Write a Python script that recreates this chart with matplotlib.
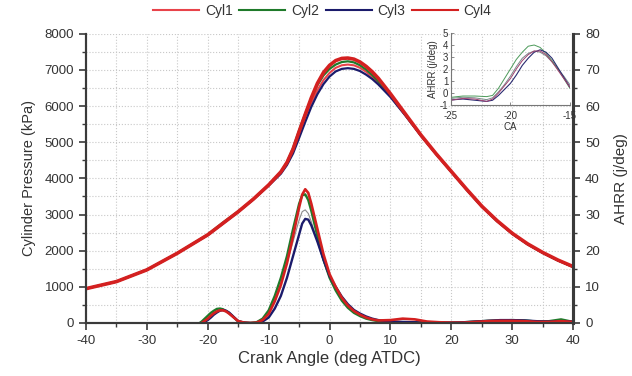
import matplotlib
matplotlib.use("Agg")
import matplotlib.pyplot as plt
from matplotlib.lines import Line2D
from matplotlib.ticker import MultipleLocator

plt.rcParams['font.family'] = ['Liberation Sans', 'DejaVu Sans']
plt.rcParams['axes.unicode_minus'] = False

# crank angle for pressure traces (deg ATDC)
p_ca = [-40, -35, -30, -25, -20, -17.5, -15, -12.5, -10,
        -8, -7, -6, -5, -4, -3, -2, -1, 0, 1, 2, 3, 4, 5, 6, 7, 8,
        10, 12.5, 15, 17.5, 20, 22.5, 25, 27.5, 30, 32.5, 35, 37.5, 40]

# cylinder pressure (kPa)
p_cyl1 = [950, 1145, 1470, 1930, 2440, 2760, 3080, 3430, 3820,
          4160, 4420, 4780, 5250, 5700, 6100, 6440, 6720, 6920, 7060, 7130, 7150, 7130, 7060, 6950, 6810, 6640,
          6270, 5730, 5180, 4670, 4180, 3690, 3220, 2820, 2470, 2180, 1940, 1730, 1550]
p_cyl2 = [950, 1145, 1470, 1930, 2450, 2780, 3090, 3430, 3820,
          4180, 4450, 4840, 5330, 5790, 6220, 6580, 6850, 7030, 7150, 7220, 7240, 7210, 7130, 7010, 6860, 6690,
          6300, 5750, 5190, 4680, 4180, 3690, 3220, 2820, 2470, 2180, 1940, 1730, 1550]
p_cyl3 = [950, 1145, 1470, 1930, 2430, 2750, 3070, 3420, 3800,
          4130, 4370, 4690, 5120, 5560, 5980, 6330, 6610, 6820, 6960, 7030, 7050, 7030, 6970, 6870, 6750, 6600,
          6250, 5730, 5180, 4670, 4180, 3690, 3220, 2820, 2470, 2180, 1940, 1730, 1550]
p_cyl4 = [950, 1145, 1470, 1930, 2440, 2760, 3080, 3430, 3820,
          4180, 4440, 4810, 5300, 5770, 6230, 6630, 6930, 7130, 7260, 7320, 7330, 7300, 7220, 7100, 6950, 6770,
          6340, 5770, 5200, 4680, 4190, 3700, 3230, 2830, 2480, 2190, 1950, 1740, 1560]

# crank angle for heat release traces
h_ca = [-40, -35, -30, -26,
        -25, -24, -23, -22,
        -21.5, -21, -20.5, -20,
        -19.5, -19, -18.5, -18,
        -17.5, -17, -16.5, -16,
        -15.5, -15, -14, -13,
        -12, -11, -10, -9,
        -8, -7, -6, -5,
        -4.5, -4, -3.5, -3,
        -2, -1, 0, 1,
        2, 3, 4, 5,
        6, 7, 8, 10,
        12, 14, 16, 18,
        20, 22, 24, 26,
        28, 30, 32, 34,
        36, 38, 40]

# apparent heat release rate (j/deg)
h_cyl1 = [-0.5, -0.45, -0.5, -0.5,
          -0.45, -0.35, -0.4, -0.55,
          -0.4, 0.1, 0.7, 1.4,
          2.2, 2.9, 3.3, 3.5,
          3.4, 3.1, 2.6, 2.0,
          1.4, 0.7, 0.2, 0.0,
          0.1, 0.9, 2.8, 6.5,
          11.0, 16.5, 22.5, 28.5,
          30.8, 31.3, 30.3, 28.0,
          22.5, 17.0, 12.5, 9.3,
          6.6, 4.6, 3.2, 2.2,
          1.5, 1.0, 0.6, 0.4,
          0.3, 0.2, 0.1, 0.1,
          0.1, 0.1, 0.2, 0.3,
          0.4, 0.4, 0.3, 0.2,
          0.2, 0.3, 0.2]
h_cyl2 = [-0.4, -0.35, -0.4, -0.4,
          -0.36, -0.25, -0.25, -0.3,
          -0.2, 0.4, 1.2, 2.0,
          2.8, 3.4, 3.9, 4.0,
          3.8, 3.3, 2.7, 2.0,
          1.2, 0.4, 0.1, 0.0,
          0.2, 1.2, 3.5, 7.5,
          12.5, 18.5, 26.0, 33.0,
          35.3, 35.6, 34.0, 31.0,
          24.0, 17.5, 12.5, 9.0,
          6.2, 4.2, 2.8, 1.9,
          1.2, 0.8, 0.5, 0.3,
          0.2, 0.2, 0.1, 0.1,
          0.1, 0.2, 0.4, 0.6,
          0.7, 0.8, 0.7, 0.4,
          0.5, 1.0, 0.3]
h_cyl3 = [-0.6, -0.55, -0.6, -0.6,
          -0.58, -0.5, -0.6, -0.7,
          -0.6, -0.2, 0.3, 0.8,
          1.5, 2.3, 2.9, 3.4,
          3.6, 3.4, 2.9, 2.1,
          1.3, 0.5, 0.1, 0.0,
          0.0, 0.4, 1.5, 4.0,
          7.5, 12.5, 18.5, 24.5,
          27.5, 28.8, 28.6, 27.0,
          22.5, 17.5, 13.0, 10.0,
          7.3, 5.2, 3.6, 2.6,
          1.8, 1.2, 0.8, 0.4,
          0.3, 0.2, 0.1, 0.1,
          0.1, 0.2, 0.4, 0.6,
          0.8, 0.8, 0.7, 0.5,
          0.4, 0.5, 0.4]
h_cyl4 = [-0.6, -0.5, -0.6, -0.6,
          -0.6, -0.45, -0.5, -0.7,
          -0.5, 0.0, 0.6, 1.2,
          2.0, 2.7, 3.2, 3.5,
          3.5, 3.2, 2.6, 1.9,
          1.2, 0.5, 0.1, 0.0,
          0.1, 0.8, 2.5, 6.0,
          10.5, 16.5, 24.0, 32.0,
          35.5, 37.0, 36.0, 33.0,
          26.0, 19.0, 13.5, 10.0,
          7.0, 4.8, 3.3, 2.3,
          1.5, 1.0, 0.7, 0.8,
          1.2, 1.0, 0.4, 0.2,
          0.1, 0.1, 0.3, 0.5,
          0.6, 0.6, 0.5, 0.3,
          0.3, 0.5, 0.3]

labels = ['Cyl1', 'Cyl2', 'Cyl3', 'Cyl4']
colors = ['#e8434a', '#1f7a2a', '#1b1b6b', '#d42020']

spine_col = '#3a3a3a'
text_col = '#333333'

fig = plt.figure(figsize=(6.32, 3.76), dpi=100)
ax = fig.add_axes([0.136, 0.141, 0.771, 0.769])
ax2 = ax.twinx()

# pressure
pressures = [p_cyl1, p_cyl2, p_cyl3, p_cyl4]
widths = [1.5, 1.6, 1.6, 2.6]
for p, c, w in zip(pressures, colors, widths):
    ax.plot(p_ca, p, color=c, lw=w)

# heat release
ax2.plot(h_ca, h_cyl1, color='#8c8c8c', lw=0.8)
ax2.plot(h_ca, h_cyl2, color=colors[1], lw=1.7)
ax2.plot(h_ca, h_cyl3, color=colors[2], lw=1.7)
ax2.plot(h_ca, h_cyl4, color=colors[3], lw=1.9)

ax.set_xlim(-40, 40)
ax.set_ylim(0, 8000)
ax2.set_ylim(0, 80)

ax.xaxis.set_major_locator(MultipleLocator(10))
ax.xaxis.set_minor_locator(MultipleLocator(5))
ax.yaxis.set_major_locator(MultipleLocator(1000))
ax.yaxis.set_minor_locator(MultipleLocator(500))
ax2.yaxis.set_major_locator(MultipleLocator(10))
ax2.yaxis.set_minor_locator(MultipleLocator(5))

ax.grid(which='both', color='#c8c8c8', ls=':', lw=0.8)
ax.set_axisbelow(True)

for a in (ax, ax2):
    a.spines['top'].set_visible(False)
    for s in ('left', 'right', 'bottom'):
        a.spines[s].set_color(spine_col)
    a.spines['left'].set_linewidth(1.5)
    a.spines['bottom'].set_linewidth(1.5)
    a.spines['right'].set_linewidth(2.2)
    a.tick_params(which='major', direction='out', length=5, width=1.2,
                  color=spine_col, labelsize=9.5, labelcolor=text_col)
    a.tick_params(which='minor', direction='out', length=3, width=1.0, color=spine_col)

ax.set_xlabel('Crank Angle (deg ATDC)', fontsize=12, color=text_col, labelpad=3)
ax.set_ylabel('Cylinder Pressure (kPa)', fontsize=10.5, color=text_col, labelpad=6)
ax2.set_ylabel('AHRR (j/deg)', fontsize=11, color=text_col, labelpad=10)

handles = [Line2D([], [], color=c, lw=1.5) for c in colors]
fig.legend(handles=handles, labels=labels, loc='center', bbox_to_anchor=(0.51, 0.972),
           ncol=4, frameon=False, fontsize=10, handlelength=3.3, columnspacing=0.5,
           handletextpad=0.4, labelcolor=text_col)

# inset zoom on pilot injection heat release
axin = fig.add_axes([0.7136, 0.7207, 0.188, 0.1915])
axin.patch.set_visible(False)
axin.plot(h_ca, h_cyl1, color='#7a8a8a', lw=0.7)
axin.plot(h_ca, h_cyl2, color='#4c9a5a', lw=0.7)
axin.plot(h_ca, h_cyl3, color='#2a2a70', lw=0.8)
axin.plot(h_ca, h_cyl4, color='#a04070', lw=0.7)
axin.set_xlim(-25, -15)
axin.set_ylim(-1, 5)
axin.xaxis.set_major_locator(MultipleLocator(5))
axin.yaxis.set_major_locator(MultipleLocator(1))
for s in ('top', 'right'):
    axin.spines[s].set_visible(False)
for s in ('left', 'bottom'):
    axin.spines[s].set_color('#777777')
    axin.spines[s].set_linewidth(0.8)
axin.tick_params(direction='in', length=2, width=0.6, color='#777777',
                 labelsize=7, labelcolor=text_col)
axin.tick_params(axis='x', pad=4.5)
axin.tick_params(axis='y', pad=2)
axin.set_xlabel('CA', fontsize=7, color=text_col, labelpad=0.5)
axin.set_ylabel('AHRR (j/deg)', fontsize=7, color=text_col, labelpad=1)

fig.savefig('out.png', dpi=100)
